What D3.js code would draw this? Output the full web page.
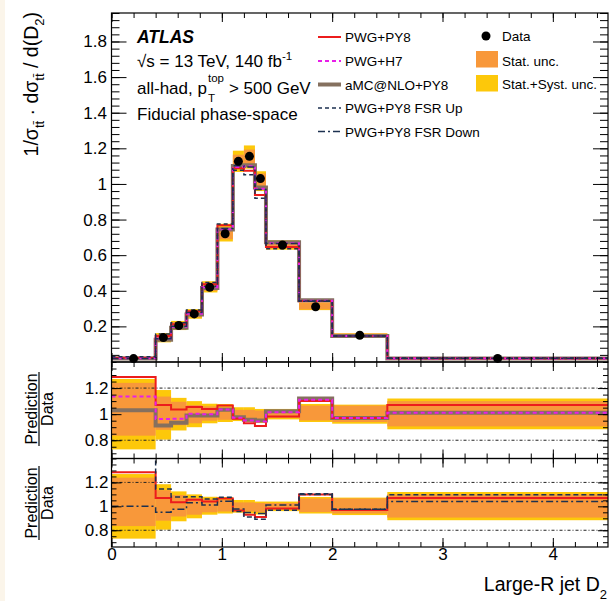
<!DOCTYPE html>
<html><head><meta charset="utf-8">
<script src="https://cdn.jsdelivr.net/npm/d3@7"></script>
<style>
html,body{margin:0;padding:0;background:#fff;}
svg{display:block;font-family:"Liberation Sans",Arial,Helvetica,sans-serif;}
</style></head><body>
<svg id="chart" width="616" height="601"></svg>
<script>
// Large-R jet D2 bin edges
const binEdges = [0, 0.4, 0.54, 0.68, 0.82, 0.96, 1.1, 1.2, 1.3, 1.4, 1.7, 2.0, 2.5, 4.5];
// Unfolded normalised cross-section (data)
const dataValues = [0.019, 0.137, 0.205, 0.27, 0.42, 0.72, 1.127, 1.155, 1.03, 0.657, 0.31, 0.15, 0.02];
// Relative data uncertainties (lower / upper edge of the band, as ratio to data)
const statLo = [0.835, 0.88, 0.915, 0.93, 0.95, 0.957, 0.962, 0.957, 0.952, 0.972, 0.952, 0.94, 0.906];
const statHi = [1.24, 1.135, 1.095, 1.07, 1.06, 1.053, 1.033, 1.033, 1.028, 1.028, 1.066, 1.066, 1.10];
const totLo  = [0.73, 0.805, 0.875, 0.90, 0.93, 0.94, 0.947, 0.94, 0.932, 0.96, 0.94, 0.927, 0.884];
const totHi  = [1.27, 1.185, 1.125, 1.10, 1.08, 1.078, 1.053, 1.053, 1.04, 1.04, 1.078, 1.073, 1.12];
// Prediction / Data for each MC setup
const pwgPy8Ratio  = [1.285, 1.07, 1.035, 1.055, 1.04, 1.066, 0.965, 0.93, 0.91, 0.982, 1.10, 0.97, 1.07];
const pwgH7Ratio   = [1.135, 0.962, 0.965, 1.003, 1.0, 1.035, 0.972, 0.952, 0.944, 1.015, 1.11, 0.97, 1.01];
const amcPy8Ratio  = [1.03, 0.914, 0.935, 0.99, 0.99, 1.033, 0.977, 0.957, 0.952, 1.023, 1.12, 0.97, 1.01];
const fsrUpRatio   = [1.55, 1.145, 1.078, 1.08, 1.062, 1.077, 0.956, 0.91, 0.893, 0.967, 1.105, 0.975, 1.097];
const fsrDownRatio = [1.0, 0.95, 0.976, 1.03, 1.012, 1.042, 0.978, 0.948, 0.94, 1.012, 1.10, 0.975, 1.04];
// Axis tick values
const xMajorTicks = [0, 1, 2, 3, 4];
const mainYTicks = [0.2, 0.4, 0.6, 0.8, 1, 1.2, 1.4, 1.6, 1.8];
const ratioYTicks = [0.8, 1, 1.2];
const ratioRefLines = [0.8, 1.2];

const COL = {
  red: "#ec1c1c", magenta: "#e81ee8", brown: "#85705f", navy: "#1d3150",
  stat: "#f8983a", tot: "#fdc80a"
};

const svg = d3.select("#chart");
svg.append("rect").attr("x", 0).attr("y", 0).attr("width", 616).attr("height", 601).attr("fill", "#fff");
svg.append("rect").attr("x", 0).attr("y", 0).attr("width", 5).attr("height", 601).attr("fill", "#fbf5ea");

const xL = 111.5, xR = 608;
const x = d3.scaleLinear().domain([0, 4.5]).range([xL, xR]);

const panels = {
  main: { top: 13, bottom: 362, y: d3.scaleLinear().domain([0, 1.96]).range([362, 13]) },
  r1: { top: 362, bottom: 458.5, y: d3.scaleLinear().domain([0.66, 1.40]).range([458.5, 362]) },
  r2: { top: 458.5, bottom: 547, y: d3.scaleLinear().domain([0.66, 1.40]).range([547, 458.5]) }
};

Object.entries(panels).forEach(([k, p]) => {
  svg.append("clipPath").attr("id", "clip-" + k).append("rect")
    .attr("x", xL).attr("y", p.top).attr("width", xR - xL).attr("height", p.bottom - p.top);
  p.g = svg.append("g");
  p.plot = p.g.append("g").attr("clip-path", `url(#clip-${k})`);
});

function stepPoints(values) {
  const pts = [];
  values.forEach((v, i) => { pts.push([binEdges[i], v]); pts.push([binEdges[i + 1], v]); });
  return pts;
}
function drawStep(p, values, color, width, dash) {
  const line = d3.line().x(d => x(d[0])).y(d => p.y(d[1]));
  p.plot.append("path").attr("d", line(stepPoints(values)))
    .attr("fill", "none").attr("stroke", color).attr("stroke-width", width)
    .attr("stroke-dasharray", dash || null);
}
function drawBands(p, scaleByData) {
  const idx = d3.range(dataValues.length);
  const f = i => scaleByData ? dataValues[i] : 1;
  [[totLo, totHi, COL.tot], [statLo, statHi, COL.stat]].forEach(([lo, hi, c]) => {
    p.plot.selectAll(null).data(idx).join("rect")
      .attr("x", i => x(binEdges[i])).attr("width", i => x(binEdges[i + 1]) - x(binEdges[i]))
      .attr("y", i => p.y(hi[i] * f(i))).attr("height", i => p.y(lo[i] * f(i)) - p.y(hi[i] * f(i)))
      .attr("fill", c);
  });
}
function refLines(p) {
  ratioRefLines.forEach(v => {
    p.plot.append("line").attr("x1", x(0)).attr("x2", x(4.5)).attr("y1", p.y(v)).attr("y2", p.y(v))
      .attr("stroke", "#222").attr("stroke-width", 1).attr("stroke-dasharray", "3,2,1,2");
  });
}

// ---- main panel ----
const M = panels.main;
drawBands(M, true);
const pred = r => r.map((v, i) => v * dataValues[i]);
drawStep(M, pred(amcPy8Ratio), COL.brown, 4);
drawStep(M, pred(pwgPy8Ratio), COL.red, 2);
drawStep(M, pred(pwgH7Ratio), COL.magenta, 2, "4,3");
drawStep(M, pred(fsrUpRatio), COL.navy, 1.5, "4,3");
drawStep(M, pred(fsrDownRatio), COL.navy, 1.5, "7,3,2,3");
M.g.selectAll(null).data(dataValues).join("circle")
  .attr("cx", (d, i) => x((binEdges[i] + binEdges[i + 1]) / 2)).attr("cy", d => M.y(d))
  .attr("r", 4.5).attr("fill", "#000");

// ---- ratio panel 1: PWG+PY8, PWG+H7, aMC@NLO+PY8 ----
const R1 = panels.r1;
drawBands(R1, false);
refLines(R1);
drawStep(R1, amcPy8Ratio, COL.brown, 4);
drawStep(R1, pwgPy8Ratio, COL.red, 2);
drawStep(R1, pwgH7Ratio, COL.magenta, 2, "4,3");

// ---- ratio panel 2: PWG+PY8 and FSR variations ----
const R2 = panels.r2;
drawBands(R2, false);
refLines(R2);
drawStep(R2, pwgPy8Ratio, COL.red, 2);
drawStep(R2, fsrUpRatio, COL.navy, 1.5, "5,3");
drawStep(R2, fsrDownRatio, COL.navy, 1.5, "7,3,2,3");

// ---- frames and axes ----
const fmt = v => String(+v.toFixed(2));
const xMinor = d3.range(0, 23).map(i => +(i * 0.2).toFixed(1)).filter(v => v <= 4.5);

function styleAxis(sel) {
  sel.select(".domain").remove();
  sel.selectAll("line").attr("stroke", "#000").attr("stroke-width", 1);
  sel.attr("font-family", '"Liberation Sans", Arial, sans-serif').attr("font-size", 17);
  sel.selectAll("text").attr("fill", "#000");
}
function axes(p, yMajor, yMinor, yMajLen, yMinLen, labelPad, showX) {
  const g = p.g;
  g.append("g").attr("transform", `translate(${xL},0)`)
    .call(d3.axisLeft(p.y).tickValues(yMinor).tickSizeInner(-yMinLen).tickSizeOuter(0).tickFormat("")).call(styleAxis);
  g.append("g").attr("transform", `translate(${xL},0)`)
    .call(d3.axisLeft(p.y).tickValues(yMajor).tickSizeInner(-yMajLen).tickSizeOuter(0).tickPadding(labelPad).tickFormat(fmt)).call(styleAxis);
  g.append("g").attr("transform", `translate(${xR},0)`)
    .call(d3.axisRight(p.y).tickValues(yMinor).tickSizeInner(-yMinLen).tickSizeOuter(0).tickFormat("")).call(styleAxis);
  g.append("g").attr("transform", `translate(${xR},0)`)
    .call(d3.axisRight(p.y).tickValues(yMajor).tickSizeInner(-yMajLen).tickSizeOuter(0).tickFormat("")).call(styleAxis);
  g.append("g").attr("transform", `translate(0,${p.top})`)
    .call(d3.axisTop(x).tickValues(xMinor).tickSizeInner(-5).tickSizeOuter(0).tickFormat("")).call(styleAxis);
  g.append("g").attr("transform", `translate(0,${p.top})`)
    .call(d3.axisTop(x).tickValues(xMajorTicks).tickSizeInner(-9).tickSizeOuter(0).tickFormat("")).call(styleAxis);
  g.append("g").attr("transform", `translate(0,${p.bottom})`)
    .call(d3.axisBottom(x).tickValues(xMinor).tickSizeInner(-5).tickSizeOuter(0).tickFormat("")).call(styleAxis);
  g.append("g").attr("transform", `translate(0,${p.bottom})`)
    .call(d3.axisBottom(x).tickValues(xMajorTicks).tickSizeInner(-9).tickSizeOuter(0).tickPadding(1)
      .tickFormat(showX ? fmt : "")).call(styleAxis);
  g.append("rect").attr("x", xL).attr("y", p.top).attr("width", xR - xL).attr("height", p.bottom - p.top)
    .attr("fill", "none").attr("stroke", "#000").attr("stroke-width", 1.2);
}
const mainMinor = d3.range(0, 50).map(i => +(i * 0.04).toFixed(2)).filter(v => v > 0 && v <= 1.96);
const ratioMinor = d3.range(14, 29).map(i => +(i * 0.05).toFixed(2));
axes(M, mainYTicks, mainMinor, 15, 8, 4.5, false);
axes(R1, ratioYTicks, ratioMinor, 10, 5, 3, false);
axes(R2, ratioYTicks, ratioMinor, 10, 5, 3, true);

// ---- axis titles ----
const yt = svg.append("text").attr("transform", "translate(38,12) rotate(-90)")
  .attr("text-anchor", "end").attr("font-size", 19.5);
yt.append("tspan").text("1/\u03C3");
yt.append("tspan").attr("font-size", 13).attr("dy", 6).text("t\u0074\u0304");
yt.append("tspan").attr("dy", -6).text(" \u00B7 d\u03C3");
yt.append("tspan").attr("font-size", 13).attr("dy", 6).text("t\u0074\u0304");
yt.append("tspan").attr("dy", -6).text(" / d(D");
yt.append("tspan").attr("font-size", 13).attr("dy", 6).text("2");
yt.append("tspan").attr("dy", -6).text(")");

function ratioTitle(cy) {
  const g = svg.append("g").attr("transform", `translate(39,${cy}) rotate(-90)`);
  g.append("text").attr("text-anchor", "middle").attr("y", -2).attr("font-size", 16).text("Prediction");
  g.append("line").attr("x1", -37).attr("x2", 37).attr("y1", 0).attr("y2", 0).attr("stroke", "#000").attr("stroke-width", 1.2);
  g.append("text").attr("text-anchor", "middle").attr("y", 14.3).attr("font-size", 16).text("Data");
}
ratioTitle(409);
ratioTitle(503);

const xt = svg.append("text").attr("x", 607).attr("y", 590.5).attr("text-anchor", "end").attr("font-size", 19.5);
xt.append("tspan").text("Large-R jet D");
xt.append("tspan").attr("font-size", 13).attr("dy", 8).text("2");

// ---- labels ----
svg.append("text").attr("x", 137).attr("y", 43).attr("font-size", 17.5)
  .attr("font-weight", "bold").attr("font-style", "italic").text("ATLAS");
const l2 = svg.append("text").attr("x", 137).attr("y", 67).attr("font-size", 17);
l2.append("tspan").text("\u221As = 13 TeV, 140 fb");
l2.append("tspan").attr("font-size", 11.5).attr("dy", -7).text("-1");
const l3 = svg.append("text").attr("x", 137).attr("y", 93.5).attr("font-size", 17).text("all-had, p");
const w3 = l3.node().getComputedTextLength();
svg.append("text").attr("x", 137 + w3 + 1).attr("y", 81.5).attr("font-size", 11.5).text("top");
svg.append("text").attr("x", 137 + w3 + 1).attr("y", 102).attr("font-size", 11.5).text("T");
svg.append("text").attr("x", 137 + w3 + 22).attr("y", 93.5).attr("font-size", 17).text("> 500 GeV");
svg.append("text").attr("x", 137).attr("y", 119.5).attr("font-size", 17).text("Fiducial phase-space");

// ---- legend ----
const legendLines = [
  { label: "PWG+PY8", color: COL.red, w: 2, dash: null },
  { label: "PWG+H7", color: COL.magenta, w: 2, dash: "4,3" },
  { label: "aMC@NLO+PY8", color: COL.brown, w: 4, dash: null },
  { label: "PWG+PY8 FSR Up", color: COL.navy, w: 1.5, dash: "4,3" },
  { label: "PWG+PY8 FSR Down", color: COL.navy, w: 1.5, dash: "7,3,2,3" }
];
const legendBase = [42, 66, 89.5, 113, 136.5];
legendLines.forEach((d, i) => {
  const yb = legendBase[i];
  svg.append("line").attr("x1", 318).attr("x2", 341).attr("y1", yb - 5).attr("y2", yb - 5)
    .attr("stroke", d.color).attr("stroke-width", d.w).attr("stroke-dasharray", d.dash);
  svg.append("text").attr("x", 345).attr("y", yb).attr("font-size", 13.5).text(d.label);
});
svg.append("circle").attr("cx", 486).attr("cy", 36).attr("r", 4.5).attr("fill", "#000");
svg.append("text").attr("x", 502).attr("y", 41).attr("font-size", 13.5).text("Data");
svg.append("rect").attr("x", 476).attr("y", 51).attr("width", 22).attr("height", 16.5).attr("fill", COL.stat);
svg.append("text").attr("x", 502).attr("y", 66).attr("font-size", 13.5).text("Stat. unc.");
svg.append("rect").attr("x", 476).attr("y", 75).attr("width", 22).attr("height", 16.5).attr("fill", COL.tot);
svg.append("text").attr("x", 502).attr("y", 89).attr("font-size", 13.5).text("Stat.+Syst. unc.");
</script>
</body></html>
